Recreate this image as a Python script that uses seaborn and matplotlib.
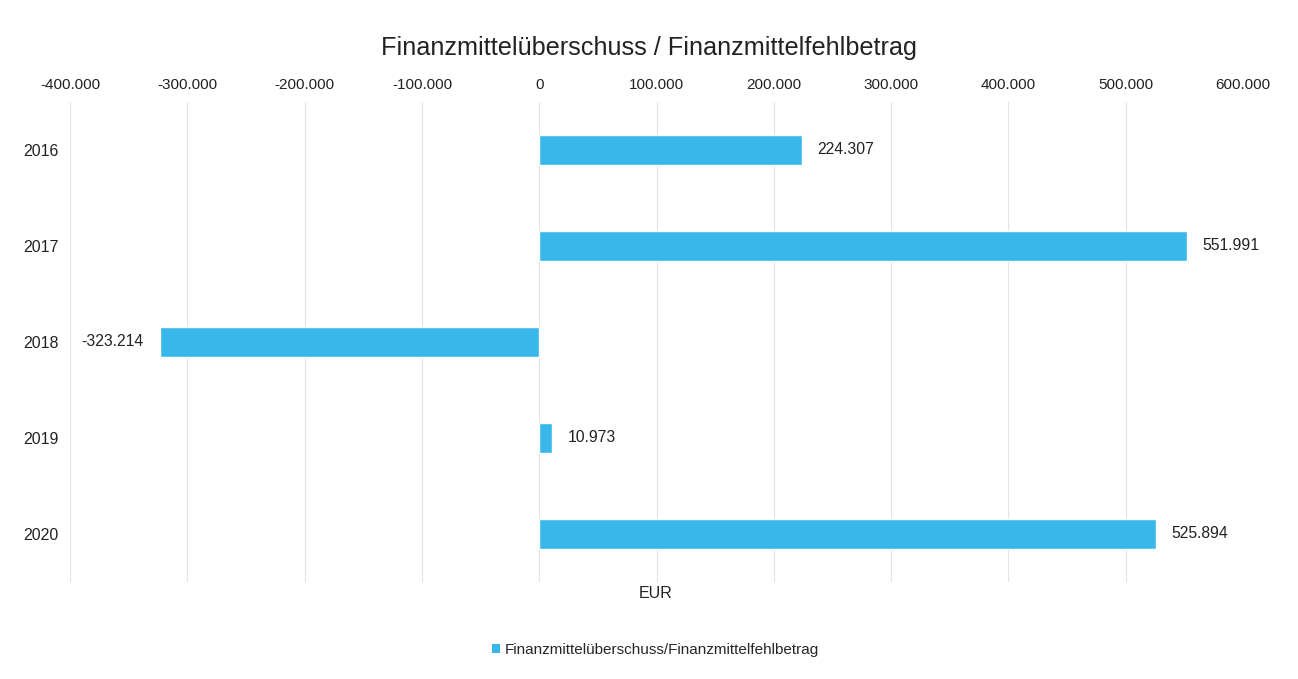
import matplotlib
matplotlib.use("Agg")
import matplotlib.pyplot as plt
import seaborn as sns
import pandas as pd
from matplotlib.patches import Patch
from matplotlib.ticker import FuncFormatter, MultipleLocator

years = ["2016", "2017", "2018", "2019", "2020"]
values = [224307, 551991, -323214, 10973, 525894]
title = "Finanzmittelüberschuss / Finanzmittelfehlbetrag"
series_name = "Finanzmittelüberschuss/Finanzmittelfehlbetrag"
unit = "EUR"

sns.set_theme(style="white")
plt.rcParams["font.family"] = ["Liberation Sans", "DejaVu Sans"]

bar_color = "#38B7EA"

def de_fmt(v):
    s = f"{abs(int(round(v))):,}".replace(",", ".")
    return ("-" if v < 0 else "") + s

df = pd.DataFrame({"Jahr": years, "Wert": values})

fig = plt.figure(figsize=(12.98, 6.79), dpi=100)
ax = fig.add_axes([0.054, 0.143, 0.9036, 0.707])

sns.barplot(data=df, x="Wert", y="Jahr", order=years, orient="h",
            color=bar_color, width=0.31, saturation=1, ax=ax)

ax.set_xlim(-400000, 600000)
ax.set_ylim(4.5, -0.5)
ax.xaxis.set_major_locator(MultipleLocator(100000))
ax.xaxis.set_major_formatter(FuncFormatter(lambda v, p: de_fmt(v)))
ax.xaxis.tick_top()
ax.tick_params(axis="x", length=0, labelsize=11, pad=7, colors="#222222")
ax.tick_params(axis="y", length=0, labelsize=11.5, pad=8, colors="#222222")
ax.grid(axis="x", color="#e3e3e3", linewidth=0.8)
ax.set_axisbelow(True)
for s in ax.spines.values():
    s.set_visible(False)
ax.set_ylabel("")
ax.set_xlabel("")

for i, v in enumerate(values):
    if v >= 0:
        ax.annotate(de_fmt(v), (v, i), xytext=(11, 0), textcoords="offset points",
                    ha="left", va="center", fontsize=11.3, color="#222222")
    else:
        ax.annotate(de_fmt(v), (v, i), xytext=(-12, 0), textcoords="offset points",
                    ha="right", va="center", fontsize=11.3, color="#222222")

fig.text(0.5, 0.930, title, ha="center", va="center", fontsize=18.2, color="#222222")
fig.text(0.505, 0.126, unit, ha="center", va="center", fontsize=11.5, color="#222222")

handle = Patch(facecolor=bar_color, edgecolor="none")
fig.legend([handle], [series_name], loc="center", bbox_to_anchor=(0.505, 0.043),
           frameon=False, fontsize=11, handlelength=0.5, handleheight=0.5,
           handletextpad=0.3)

fig.savefig("out.png", dpi=100, facecolor="white")
